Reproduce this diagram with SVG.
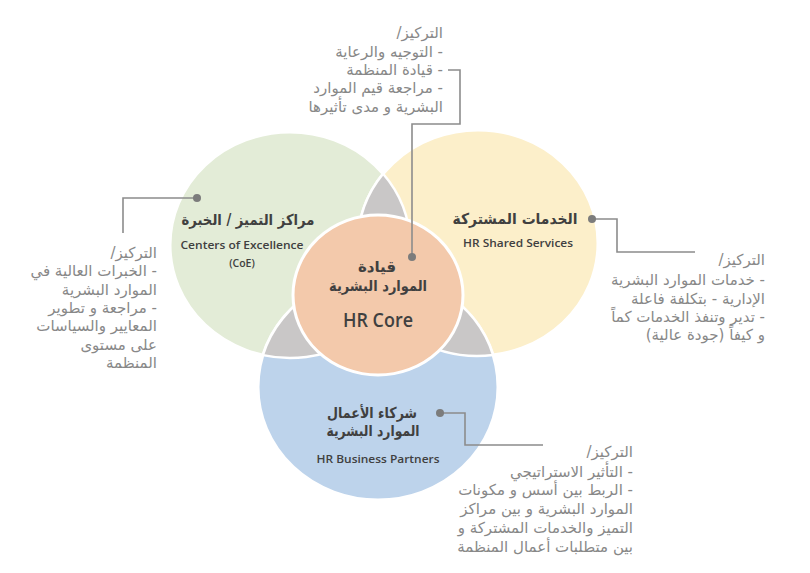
<svg xmlns="http://www.w3.org/2000/svg" width="810" height="573" viewBox="0 0 810 573">
<style>
.bg{fill:#ffffff}
.ring{stroke:#ffffff;stroke-width:3;vector-effect:non-scaling-stroke}
.lens{fill:#c9c7c7;stroke:#ffffff;stroke-width:2.5;vector-effect:non-scaling-stroke}
.ar{font-family:"DejaVu Sans",sans-serif;direction:rtl;unicode-bidi:embed}
.title{font-size:15px;font-weight:bold;fill:#404040;text-anchor:middle}
.en{font-family:"Open Sans","Liberation Sans",sans-serif;font-weight:600;fill:#404040;text-anchor:middle}
.note{font-size:15px;fill:#888888;text-anchor:start}
.conn{fill:none;stroke:#8c8c8c;stroke-width:1.6}
.dot{fill:#7c7c7c}
</style>
<rect class="bg" x="0" y="0" width="810" height="573"/>
<g transform="scale(1,0.9417)">
  <g id="coe-shape"><circle class="ring" cx="290" cy="260.2" r="120" fill="#e3ecd7"/></g>
  <g id="shared-shape"><circle class="ring" cx="478" cy="258" r="120" fill="#fcefca"/></g>
  <g id="bp-shape"><circle class="ring" cx="378" cy="411" r="120" fill="#bdd3eb"/></g>
  <g id="lenses">
    <path class="lens" d="M383.1,184.5 A120,120 0 0 0 384.9,333.7 A120,120 0 0 0 383.1,184.5 Z"/>
    <path class="lens" d="M262.9,377.1 A120,120 0 0 0 405.1,294.1 A120,120 0 0 0 262.9,377.1 Z"/>
    <path class="lens" d="M362.9,291.95 A120,120 0 0 0 493.1,377.05 A120,120 0 0 0 362.9,291.95 Z"/>
  </g>
  <g id="core-shape"><circle class="ring" cx="378" cy="313.3" r="85" fill="#f3c9ab"/></g>
</g>

<g id="connectors">
  <polyline class="conn" points="448,70 460,70 460,124 412,124 412,257"/>
  <circle class="dot" cx="412" cy="257" r="4"/>
  <polyline class="conn" points="197,198 123,198 123,233"/>
  <circle class="dot" cx="197" cy="198" r="4"/>
  <polyline class="conn" points="592,219 617,219 617,252 695,252"/>
  <circle class="dot" cx="592" cy="219" r="4"/>
  <polyline class="conn" points="440,413 465,413 465,445 543,445"/>
  <circle class="dot" cx="440" cy="413" r="4"/>
</g>

<g id="coe">
  <text class="ar title" x="248" y="225" textLength="133" lengthAdjust="spacingAndGlyphs">مراكز التميز / الخبرة</text>
  <text class="en" x="242" y="249" font-size="10.5" textLength="123" lengthAdjust="spacingAndGlyphs">Centers of Excellence</text>
  <text class="en" x="242" y="267" font-size="10.5">(CoE)</text>
</g>
<g id="shared">
  <text class="ar title" x="515" y="224" textLength="125" lengthAdjust="spacingAndGlyphs">الخدمات المشتركة</text>
  <text class="en" x="518" y="247" font-size="10.5" textLength="110" lengthAdjust="spacingAndGlyphs">HR Shared Services</text>
</g>
<g id="core">
  <text class="ar title" x="377" y="272" font-weight="normal">قيادة</text>
  <text class="ar title" x="378" y="291" textLength="98" lengthAdjust="spacingAndGlyphs">الموارد البشرية</text>
  <text class="en" x="378" y="327" font-size="19" textLength="70" lengthAdjust="spacingAndGlyphs">HR Core</text>
</g>
<g id="bp">
  <text class="ar title" x="372" y="418" textLength="90" lengthAdjust="spacingAndGlyphs">شركاء الأعمال</text>
  <text class="ar title" x="373" y="436" textLength="93" lengthAdjust="spacingAndGlyphs">الموارد البشرية</text>
  <text class="en" x="378" y="463" font-size="10.5" textLength="123" lengthAdjust="spacingAndGlyphs">HR Business Partners</text>
</g>

<g id="note-top">
  <text class="ar note" x="443" y="38">التركيز/</text>
  <text class="ar note" x="443" y="57">- التوجيه والرعاية</text>
  <text class="ar note" x="443" y="75">- قيادة المنظمة</text>
  <text class="ar note" x="443" y="93">- مراجعة قيم الموارد</text>
  <text class="ar note" x="443" y="112">البشرية و مدى تأثيرها</text>
</g>
<g id="note-left">
  <text class="ar note" x="157" y="258">التركيز/</text>
  <text class="ar note" x="157" y="276">- الخبرات العالية في</text>
  <text class="ar note" x="157" y="295">الموارد البشرية</text>
  <text class="ar note" x="157" y="313">- مراجعة و تطوير</text>
  <text class="ar note" x="157" y="331">المعايير والسياسات</text>
  <text class="ar note" x="157" y="350">على مستوى</text>
  <text class="ar note" x="157" y="368">المنظمة</text>
</g>
<g id="note-right">
  <text class="ar note" x="765" y="265">التركيز/</text>
  <text class="ar note" x="765" y="285">- خدمات الموارد البشرية</text>
  <text class="ar note" x="765" y="304">الإدارية - بتكلفة فاعلة</text>
  <text class="ar note" x="765" y="322">- تدير وتنفذ الخدمات كماً</text>
  <text class="ar note" x="765" y="340">و كيفاً (جودة عالية)</text>
</g>
<g id="note-bottom">
  <text class="ar note" x="633" y="457">التركيز/</text>
  <text class="ar note" x="633" y="477">- التأثير الاستراتيجي</text>
  <text class="ar note" x="633" y="495">- الربط بين أسس و مكونات</text>
  <text class="ar note" x="633" y="514">الموارد البشرية و بين مراكز</text>
  <text class="ar note" x="633" y="533">التميز والخدمات المشتركة و</text>
  <text class="ar note" x="633" y="552">بين متطلبات أعمال المنظمة</text>
</g>
</svg>
